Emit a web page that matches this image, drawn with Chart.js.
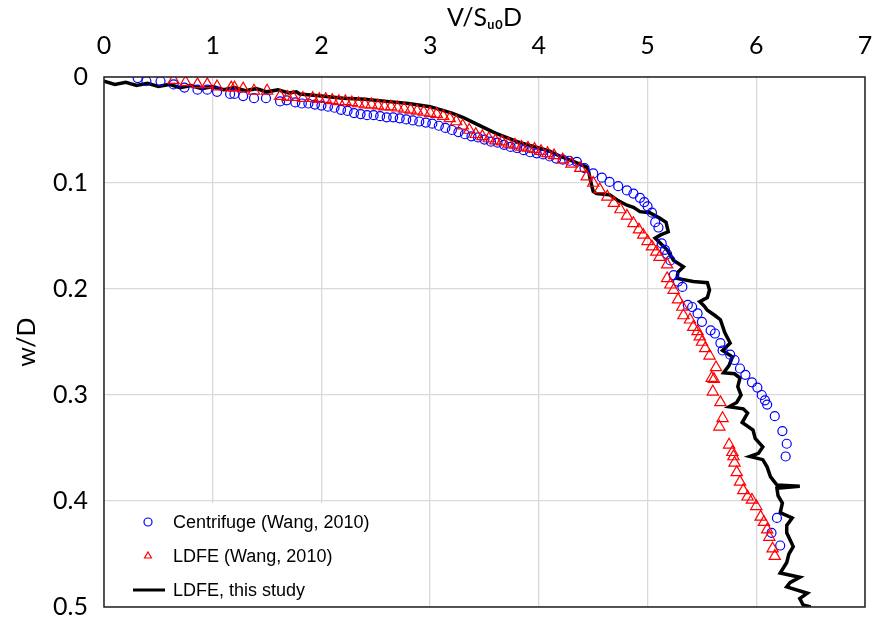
<!DOCTYPE html>
<html>
<head>
<meta charset="utf-8">
<script src="https://cdn.jsdelivr.net/npm/chart.js@4.4.0/dist/chart.umd.min.js"></script>
<style>
  html, body { margin: 0; padding: 0; background: #fff; }
  #wrap { width: 874px; height: 623px; }
</style>
</head>
<body>
<div id="wrap"><canvas id="chart" width="874" height="623"></canvas></div>
<script>
// Centrifuge (Wang, 2010)
const centrifugeV = [0.31, 0.39, 0.52, 0.64, 0.74, 0.86, 0.95, 1.04, 1.16, 1.20, 1.28, 1.38, 1.49, 1.62, 1.68, 1.76, 1.82, 1.88, 1.94, 2.00,
  2.06, 2.12, 2.18, 2.24, 2.30, 2.36, 2.42, 2.48, 2.54, 2.60, 2.66, 2.72, 2.78, 2.84, 2.90, 2.96, 3.02, 3.08, 3.14, 3.20,
  3.26, 3.32, 3.38, 3.44, 3.50, 3.56, 3.62, 3.68, 3.74, 3.80, 3.86, 3.92, 3.98, 4.04, 4.10, 4.16, 4.22, 4.28, 4.35, 4.42,
  4.50, 4.58, 4.65, 4.73, 4.81, 4.87, 4.93, 4.97, 5.00, 5.04, 5.07, 5.10, 5.13, 5.16, 5.18, 5.21, 5.24, 5.28, 5.32, 5.37,
  5.41, 5.46, 5.50, 5.58, 5.62, 5.67, 5.69, 5.76, 5.80, 5.85, 5.90, 5.96, 6.01, 6.05, 6.08, 6.10, 6.17, 6.24, 6.28, 6.27,
  6.19, 6.14, 6.22];
const centrifugeW = [0.001, 0.004, 0.004, 0.007, 0.010, 0.012, 0.012, 0.014, 0.016, 0.016, 0.018, 0.020, 0.020, 0.023, 0.022, 0.024, 0.025, 0.025, 0.026, 0.027,
  0.028, 0.029, 0.031, 0.032, 0.034, 0.035, 0.036, 0.036, 0.037, 0.038, 0.038, 0.039, 0.040, 0.041, 0.042, 0.043, 0.044, 0.046, 0.048, 0.050,
  0.052, 0.054, 0.056, 0.057, 0.059, 0.061, 0.062, 0.064, 0.066, 0.067, 0.069, 0.071, 0.072, 0.073, 0.075, 0.077, 0.078, 0.079, 0.080, 0.086,
  0.091, 0.095, 0.099, 0.103, 0.107, 0.110, 0.114, 0.118, 0.122, 0.128, 0.137, 0.142, 0.157, 0.163, 0.167, 0.173, 0.187, 0.193, 0.198, 0.215,
  0.217, 0.223, 0.231, 0.239, 0.242, 0.251, 0.258, 0.262, 0.267, 0.275, 0.281, 0.288, 0.293, 0.300, 0.305, 0.309, 0.320, 0.334, 0.346, 0.358,
  0.416, 0.430, 0.442];

// LDFE (Wang, 2010)
const wangV = [0.64, 0.75, 0.86, 0.95, 1.04, 1.17, 1.20, 1.28, 1.38, 1.50, 1.62, 1.69, 1.74, 1.83, 1.92, 1.98, 2.04, 2.10, 2.16, 2.22,
  2.28, 2.34, 2.40, 2.46, 2.52, 2.58, 2.64, 2.70, 2.76, 2.82, 2.88, 2.94, 3.00, 3.06, 3.12, 3.18, 3.24, 3.30, 3.36, 3.42,
  3.48, 3.54, 3.60, 3.66, 3.72, 3.78, 3.84, 3.90, 3.96, 4.02, 4.08, 4.14, 4.22, 4.30, 4.38, 4.44, 4.50, 4.56, 4.63, 4.69,
  4.75, 4.81, 4.87, 4.92, 4.96, 5.00, 5.04, 5.08, 5.11, 5.18, 5.18, 5.21, 5.24, 5.28, 5.32, 5.33, 5.39, 5.42, 5.46, 5.48,
  5.50, 5.53, 5.57, 5.63, 5.59, 5.61, 5.60, 5.67, 5.69, 5.66, 5.75, 5.78, 5.79, 5.80, 5.82, 5.85, 5.88, 5.92, 5.96, 6.00,
  6.04, 6.07, 6.10, 6.12, 6.15, 6.17];
const wangW = [0.003, 0.005, 0.007, 0.007, 0.009, 0.010, 0.010, 0.011, 0.013, 0.013, 0.018, 0.019, 0.019, 0.020, 0.020, 0.021, 0.021, 0.022, 0.023, 0.023,
  0.024, 0.025, 0.026, 0.026, 0.027, 0.028, 0.028, 0.029, 0.030, 0.031, 0.032, 0.033, 0.034, 0.035, 0.037, 0.039, 0.042, 0.046, 0.050, 0.054,
  0.056, 0.058, 0.060, 0.061, 0.063, 0.064, 0.066, 0.067, 0.068, 0.070, 0.072, 0.074, 0.078, 0.082, 0.086, 0.094, 0.100, 0.106, 0.113, 0.119,
  0.125, 0.131, 0.138, 0.144, 0.149, 0.155, 0.160, 0.165, 0.170, 0.177, 0.190, 0.196, 0.201, 0.210, 0.217, 0.225, 0.229, 0.236, 0.240, 0.245,
  0.250, 0.256, 0.263, 0.274, 0.284, 0.285, 0.297, 0.307, 0.322, 0.330, 0.347, 0.354, 0.358, 0.364, 0.373, 0.382, 0.390, 0.396, 0.399, 0.405,
  0.415, 0.420, 0.427, 0.434, 0.445, 0.452];

// LDFE, this study
const studyV = [0.00, 0.10, 0.20, 0.30, 0.40, 0.50, 0.60, 0.70, 0.80, 0.90, 1.00, 1.10, 1.20, 1.30, 1.40, 1.50, 1.60, 1.70, 1.77, 1.80,
  1.90, 2.00, 2.20, 2.40, 2.60, 2.80, 3.00, 3.10, 3.20, 3.30, 3.40, 3.50, 3.60, 3.70, 3.80, 3.90, 4.00, 4.10, 4.20, 4.30,
  4.44, 4.46, 4.48, 4.50, 4.53, 4.65, 4.72, 4.81, 4.87, 4.93, 5.02, 5.11, 5.17, 5.19, 5.12, 5.07, 5.12, 5.18, 5.24, 5.33,
  5.28, 5.27, 5.42, 5.55, 5.57, 5.55, 5.48, 5.52, 5.55, 5.62, 5.67, 5.71, 5.76, 5.69, 5.78, 5.75, 5.70, 5.80, 5.85, 5.83,
  5.86, 5.82, 5.75, 5.88, 5.92, 5.87, 5.97, 5.99, 6.06, 6.02, 5.94, 6.06, 6.10, 6.13, 6.19, 6.40, 6.19, 6.20, 6.24, 6.22,
  6.33, 6.28, 6.28, 6.34, 6.30, 6.28, 6.22, 6.40, 6.31, 6.28, 6.47, 6.40, 6.43, 6.50];
const studyW = [0.004, 0.007, 0.005, 0.008, 0.006, 0.009, 0.007, 0.010, 0.008, 0.011, 0.009, 0.012, 0.010, 0.013, 0.011, 0.014, 0.012, 0.015, 0.014, 0.016,
  0.017, 0.018, 0.020, 0.021, 0.023, 0.025, 0.028, 0.031, 0.034, 0.038, 0.043, 0.048, 0.053, 0.057, 0.061, 0.064, 0.067, 0.070, 0.075, 0.079,
  0.085, 0.090, 0.100, 0.108, 0.110, 0.111, 0.116, 0.121, 0.123, 0.127, 0.128, 0.133, 0.137, 0.146, 0.149, 0.152, 0.157, 0.163, 0.173, 0.179,
  0.184, 0.190, 0.193, 0.194, 0.201, 0.208, 0.212, 0.216, 0.220, 0.225, 0.229, 0.241, 0.251, 0.258, 0.264, 0.272, 0.279, 0.280, 0.284, 0.292,
  0.300, 0.307, 0.311, 0.313, 0.317, 0.326, 0.333, 0.341, 0.349, 0.355, 0.358, 0.361, 0.368, 0.377, 0.385, 0.386, 0.388, 0.395, 0.402, 0.411,
  0.416, 0.423, 0.430, 0.443, 0.450, 0.458, 0.468, 0.472, 0.477, 0.481, 0.487, 0.492, 0.498, 0.500];

const seriesLabels = ["Centrifuge (Wang, 2010)", "LDFE (Wang, 2010)", "LDFE, this study"];
const xTitle = "V/S\u1D64\u2080D";
const yTitle = "w/D";

const toPoints = (xs, ys) => xs.map((x, i) => ({ x: x, y: ys[i] }));

const tickFont = { family: "Lato", size: 25 };
const legendFont = "18px 'Liberation Sans', Arial, sans-serif";

// legend drawn inside the plot, bottom left, on a white box
const insideLegend = {
  id: "insideLegend",
  afterDraw(chart) {
    const ctx = chart.ctx;
    const area = chart.chartArea;
    const ds = chart.data.datasets;
    ctx.save();
    ctx.fillStyle = "#fff";
    ctx.fillRect(area.left + 1, area.bottom - 104, 296, 103);
    ctx.font = legendFont;
    ctx.textBaseline = "middle";
    ds.forEach((d, i) => {
      const y = area.bottom - 85 + i * 34;
      const mx = area.left + 44;
      ctx.strokeStyle = d.borderColor;
      ctx.fillStyle = "rgba(0,0,0,0)";
      if (d.showLine) {
        ctx.lineWidth = 3;
        ctx.beginPath();
        ctx.moveTo(area.left + 29, y);
        ctx.lineTo(area.left + 61, y);
        ctx.stroke();
      } else {
        ctx.lineWidth = 1.2;
        Chart.helpers.drawPoint(ctx, { pointStyle: d.pointStyle, radius: 4, borderWidth: 1.2 }, mx, y);
      }
      ctx.fillStyle = "#000";
      ctx.fillText(d.label, area.left + 69, y + 1);
    });
    // plot frame
    ctx.strokeStyle = "#222";
    ctx.lineWidth = 1.5;
    ctx.strokeRect(area.left, area.top, area.right - area.left, area.bottom - area.top);
    ctx.restore();
  }
};

const ctx = document.getElementById("chart").getContext("2d");
new Chart(ctx, {
  type: "scatter",
  data: {
    datasets: [
      {
        label: seriesLabels[0],
        data: toPoints(centrifugeV, centrifugeW),
        showLine: false,
        pointStyle: "circle",
        pointRadius: 4.5,
        pointBorderWidth: 1.2,
        borderColor: "#0000ff",
        backgroundColor: "rgba(0,0,0,0)",
        order: 2
      },
      {
        label: seriesLabels[1],
        data: toPoints(wangV, wangW),
        showLine: false,
        pointStyle: "triangle",
        pointRadius: 6.5,
        pointBorderWidth: 1.2,
        borderColor: "#ff0000",
        backgroundColor: "rgba(0,0,0,0)",
        order: 1
      },
      {
        label: seriesLabels[2],
        data: toPoints(studyV, studyW),
        showLine: true,
        borderColor: "#000000",
        backgroundColor: "#000000",
        borderWidth: 3.5,
        pointRadius: 0,
        tension: 0,
        order: 3
      }
    ]
  },
  options: {
    responsive: false,
    animation: false,
    layout: { padding: { left: 0, right: 9, top: 0, bottom: 16 } },
    plugins: {
      legend: { display: false },
      tooltip: { enabled: false }
    },
    scales: {
      x: {
        type: "linear",
        position: "top",
        min: 0,
        max: 7,
        ticks: { stepSize: 1, font: tickFont, color: "#000", padding: 16 },
        grid: { color: "#d9d9d9", lineWidth: 1.3, drawTicks: false },
        border: { display: false },
        title: { display: true, text: xTitle, font: tickFont, color: "#000", padding: { top: 3, bottom: 0 } },
        afterFit: s => { s.height = 77; s.paddingLeft = 0; s.paddingRight = 0; }
      },
      y: {
        type: "linear",
        reverse: true,
        min: 0,
        max: 0.5,
        ticks: {
          stepSize: 0.1,
          font: tickFont,
          color: "#000",
          padding: 16,
          callback: v => String(Number(v.toFixed(1)))
        },
        grid: { color: "#d9d9d9", lineWidth: 1.3, drawTicks: false },
        border: { display: false },
        title: { display: true, text: yTitle, font: tickFont, color: "#000", padding: { top: 12, bottom: 0 } },
        afterFit: s => { s.width = 104; s.paddingTop = 0; s.paddingBottom = 0; }
      }
    }
  },
  plugins: [insideLegend]
});
</script>
</body>
</html>
